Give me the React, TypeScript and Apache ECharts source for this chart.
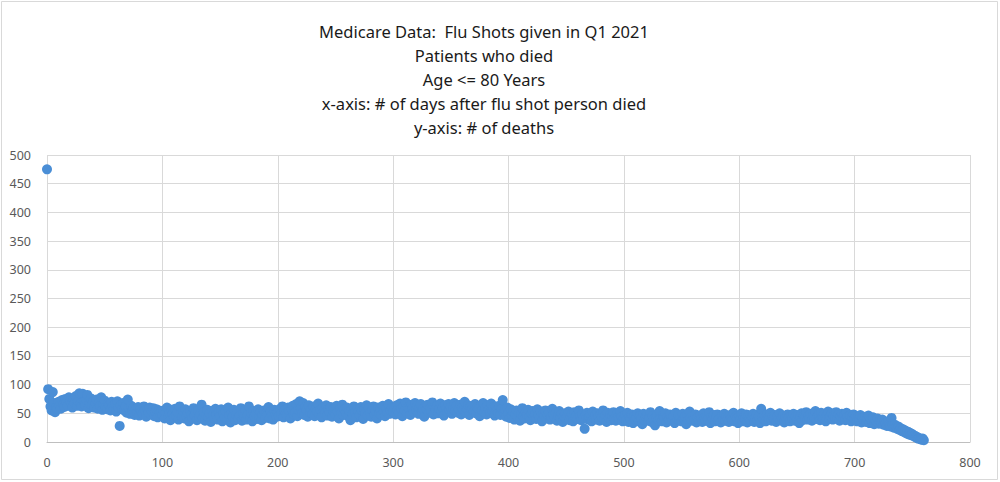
import React, { useEffect, useRef } from "react";
import * as echarts from "echarts";

const titleLines = [
  "Medicare Data:  Flu Shots given in Q1 2021",
  "Patients who died",
  "Age <= 80 Years",
  "x-axis: # of days after flu shot person died",
  "y-axis: # of deaths",
];

const xTicks = { min: 0, max: 800, interval: 100 };
const yTicks = { min: 0, max: 500, interval: 50 };

// deaths per day after flu shot, day index = position in the arrays
const days000to099 = [
  475, 92, 75, 62, 55, 87, 68, 52, 60, 58,
  70, 64, 58, 73, 66, 61, 75, 69, 63, 78,
  72, 66, 60, 74, 68, 80, 63, 71, 85, 67,
  62, 84, 70, 65, 73, 82, 59, 68, 76, 64,
  71, 60, 67, 74, 58, 69, 63, 78, 56, 66,
  72, 61, 57, 68, 64, 55, 70, 62, 59, 66,
  53, 71, 60, 28, 64, 57, 68, 55, 62, 51,
  74, 58, 49, 63, 55, 60, 47, 57, 52, 61,
  46, 58, 53, 49, 62, 55, 44, 57, 51, 60,
  48, 54, 59, 45, 52, 57, 43, 55, 50, 53,
];
const days100to199 = [
  47, 55, 41, 52, 60, 44, 50, 38, 56, 49,
  43, 58, 46, 52, 39, 62, 48, 44, 53, 41,
  57, 45, 50, 36, 54, 47, 42, 59, 46, 51,
  38, 55, 44, 49, 65, 42, 52, 37, 47, 56,
  43, 50, 35, 54, 46, 41, 58, 48, 39, 52,
  45, 57, 36, 49, 43, 53, 40, 60, 47, 34,
  51, 44, 56, 38, 48, 53, 41, 46, 59, 37,
  50, 43, 55, 39, 47, 62, 42, 51, 36, 54,
  45, 49, 40, 57, 44, 52, 38, 48, 55, 42,
  50, 46, 61, 41, 53, 47, 39, 56, 48, 44,
];
const days200to299 = [
  52, 45, 58, 49, 62, 43, 55, 50, 47, 60,
  54, 41, 57, 63, 48, 52, 66, 45, 56, 71,
  59, 50, 68, 47, 61, 55, 44, 64, 52, 57,
  49, 62, 45, 58, 53, 67, 48, 56, 43, 60,
  54, 50, 64, 46, 57, 52, 61, 44, 55, 59,
  48, 63, 53, 41, 58, 50, 65, 47, 56, 52,
  60, 45, 54, 38, 57, 49, 62, 51, 43, 58,
  53, 47, 61, 55, 40, 57, 50, 64, 46, 59,
  52, 44, 56, 62, 48, 54, 41, 60, 50, 57,
  47, 63, 53, 45, 58, 51, 66, 49, 55, 60,
];
const days300to399 = [
  53, 60, 48, 64, 56, 51, 67, 58, 45, 62,
  55, 69, 50, 61, 57, 47, 65, 59, 52, 68,
  56, 63, 49, 60, 66, 54, 58, 44, 62, 57,
  65, 51, 59, 55, 69, 48, 61, 56, 63, 50,
  58, 67, 53, 60, 46, 64, 57, 52, 66, 55,
  61, 49, 59, 68, 54, 63, 51, 57, 65, 48,
  60, 55, 70, 52, 58, 64, 47, 62, 56, 59,
  53, 66, 50, 61, 57, 45, 63, 55, 68, 52,
  59, 48, 64, 56, 51, 67, 54, 60, 46, 62,
  55, 50, 63, 47, 58, 73, 52, 56, 44, 60,
];
const days400to499 = [
  50, 42, 57, 46, 53, 39, 48, 55, 44, 51,
  37, 49, 59, 45, 41, 52, 47, 56, 43, 38,
  50, 54, 44, 48, 40, 57, 46, 42, 53, 36,
  49, 45, 55, 41, 47, 52, 39, 44, 58, 48,
  43, 51, 37, 46, 54, 42, 49, 35, 45, 50,
  41, 47, 53, 38, 44, 49, 36, 52, 43, 46,
  40, 55, 45, 38, 48, 42, 23, 47, 51, 39,
  44, 49, 36, 53, 42, 46, 39, 50, 45, 37,
  48, 43, 55, 40, 46, 35, 51, 42, 47, 38,
  45, 52, 41, 37, 49, 43, 39, 54, 44, 36,
];
const days500to599 = [
  42, 47, 38, 51, 35, 44, 40, 48, 33, 45,
  39, 43, 50, 36, 46, 41, 31, 49, 38, 44,
  47, 37, 42, 52, 35, 45, 40, 29, 43, 48,
  38, 54, 41, 36, 46, 43, 50, 34, 44, 39,
  48, 42, 37, 45, 33, 51, 40, 46, 38, 43,
  36, 49, 41, 44, 31, 47, 39, 53, 42, 37,
  45, 40, 48, 34, 43, 38, 46, 41, 35, 50,
  42, 37, 45, 39, 52, 33, 44, 40, 47, 36,
  43, 48, 38, 41, 34, 46, 39, 49, 37, 44,
  40, 35, 47, 42, 38, 51, 36, 44, 41, 33,
];
const days600to699 = [
  45, 39, 50, 36, 43, 41, 48, 34, 46, 40,
  37, 44, 49, 35, 42, 47, 38, 45, 33, 58,
  43, 40, 46, 36, 48, 42, 39, 51, 37, 44,
  41, 47, 35, 45, 40, 50, 38, 43, 46, 34,
  44, 39, 48, 42, 36, 46, 41, 49, 37, 45,
  40, 47, 33, 44, 50, 38, 46, 42, 52, 39,
  45, 41, 49, 37, 47, 43, 54, 40, 46, 48,
  38, 51, 44, 42, 49, 36, 47, 53, 41, 45,
  50, 39, 46, 43, 52, 40, 48, 37, 45, 49,
  42, 47, 38, 51, 44, 40, 46, 36, 43, 48,
];
const days700to760 = [
  41, 45, 36, 43, 39, 47, 34, 42, 38, 44,
  35, 40, 46, 33, 39, 37, 43, 31, 38, 36,
  41, 32, 37, 34, 39, 30, 35, 33, 28, 36,
  31, 27, 42, 29, 25, 30, 26, 23, 27, 21,
  24, 19, 22, 17, 20, 15, 18, 13, 16, 12,
  14, 10, 11, 8, 9, 6, 7, 5, 4, 6, 3,
];

const deaths = [
  ...days000to099,
  ...days100to199,
  ...days200to299,
  ...days300to399,
  ...days400to499,
  ...days500to599,
  ...days600to699,
  ...days700to760,
];

const FONT = "'Noto Sans', 'Open Sans', sans-serif";

export default function App() {
  const ref = useRef<HTMLDivElement>(null);

  useEffect(() => {
    if (!ref.current) return;
    const chart = echarts.init(ref.current, null, { renderer: "svg" });
    chart.setOption({
      animation: false,
      backgroundColor: "#ffffff",
      grid: { left: 47, right: 30, top: 155, bottom: 40 },
      graphic: [
        {
          type: "rect",
          shape: { x: 1.5, y: 1.5, width: 996, height: 478 },
          style: { fill: "none", stroke: "#d9d9d9", lineWidth: 1 },
          silent: true,
        },
        {
          type: "text",
          x: 484,
          y: 19,
          style: {
            text: titleLines.join("\n"),
            fill: "#1a1a1a",
            font: `16.5px ${FONT}`,
            fontSize: 16.5,
            fontFamily: FONT,
            lineHeight: 24,
            textAlign: "center",
            textVerticalAlign: "top",
          },
        },
      ],
      xAxis: {
        type: "value",
        min: xTicks.min,
        max: xTicks.max,
        interval: xTicks.interval,
        axisLine: { show: true, lineStyle: { color: "#bfbfbf", width: 1 } },
        axisTick: { show: false },
        axisLabel: { color: "#595959", fontSize: 12.5, fontFamily: FONT, margin: 14 },
        splitLine: { show: true, lineStyle: { color: "#d9d9d9", width: 1 } },
      },
      yAxis: {
        type: "value",
        min: yTicks.min,
        max: yTicks.max,
        interval: yTicks.interval,
        axisLine: { show: false },
        axisTick: { show: false },
        axisLabel: { color: "#595959", fontSize: 12.5, fontFamily: FONT, margin: 16 },
        splitLine: { show: true, lineStyle: { color: "#d9d9d9", width: 1 } },
      },
      series: [
        {
          type: "scatter",
          symbol: "circle",
          symbolSize: 10,
          itemStyle: { color: "#4a8ed6", opacity: 1 },
          data: deaths.map((v, i) => [i, v]),
        },
      ],
    });
    return () => chart.dispose();
  }, []);

  return (
    <div
      ref={ref}
      style={{ position: "fixed", left: 0, top: 0, width: 1000, height: 482 }}
    />
  );
}
